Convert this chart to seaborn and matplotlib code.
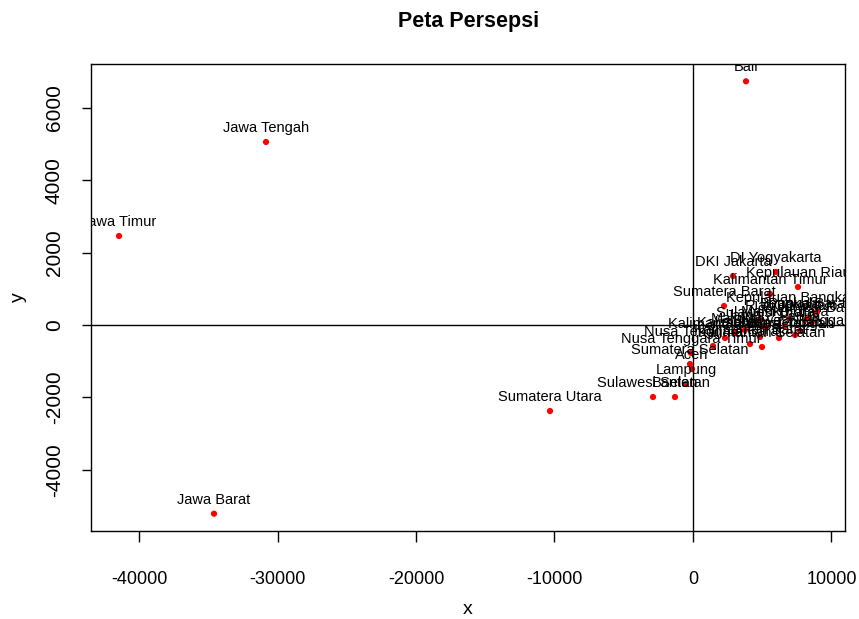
import matplotlib
matplotlib.use("Agg")
import matplotlib.pyplot as plt
import seaborn as sns
import pandas as pd

provinces = [
    "Bali", "Jawa Tengah", "Jawa Timur", "Jawa Barat", "Sumatera Utara",
    "Sulawesi Selatan", "Banten", "Lampung", "Aceh", "Sumatera Selatan",
    "Nusa Tenggara Timur", "DKI Jakarta", "DI Yogyakarta", "Kepulauan Riau",
    "Kalimantan Timur", "Sumatera Barat", "Kepulauan Bangka Belitung",
    "Papua Barat", "Nusa Tenggara Barat", "Kalimantan Barat", "Kalimantan Selatan",
    "Kalimantan Tengah", "Sulawesi Tengah", "Sulawesi Tenggara", "Riau",
    "Bengkulu", "Gorontalo", "Sulawesi Barat", "Jambi", "Sulawesi Utara",
    "Maluku", "Maluku Utara", "Kalimantan Utara", "Papua",
]
x_vals = [
    3827, -30830, -41444, -34585, -10325,
    -2888, -1300, -505, -72, -217,
    -144, 2888, 5993, 7581,
    5560, 2238, 8953,
    8375, 1444, 4116, 4982,
    4838, 6209, 7365, 4838,
    7004, 8087, 8592, 3755, 5199,
    3032, 6643, 2310, 7726,
]
y_vals = [
    6738, 5060, 2461, -5217, -2378,
    -1991, -1991, -1631, -1217, -1078,
    -774, 1355, 1465, 1051,
    857, 525, 359,
    194, -581, -525, -608,
    -332, -359, -276, 138,
    194, 138, 83, -138, -55,
    -221, -28, -359, -166,
]
x_ticks = [-40000, -30000, -20000, -10000, 0, 10000]
y_ticks = [-4000, -2000, 0, 2000, 4000, 6000]

sns.set_style("white")
plt.rcParams["font.family"] = ["Liberation Sans", "DejaVu Sans"]
plt.rcParams["text.color"] = "black"
plt.rcParams["axes.labelcolor"] = "black"
plt.rcParams["xtick.color"] = "black"
plt.rcParams["ytick.color"] = "black"

W, H = 859, 619
fig = plt.figure(figsize=(W / 100, H / 100), dpi=100)
ax = fig.add_axes([91 / W, 1 - 531 / H, (845 - 91) / W, (531 - 64) / H])

df = pd.DataFrame({"x": x_vals, "y": y_vals, "label": provinces})
sns.scatterplot(data=df, x="x", y="y", color="red", s=20, edgecolor="none",
                ax=ax, zorder=2.5, legend=False)
ax.axhline(0, color="black", lw=1, zorder=2)
ax.axvline(0, color="black", lw=1, zorder=2)

for lab, xv, yv in zip(provinces, x_vals, y_vals):
    ax.annotate(lab, (xv, yv), xytext=(0, 14), textcoords="offset pixels",
                ha="center", va="center", fontsize=10.5, color="black",
                clip_on=True, annotation_clip=False, zorder=3)

ax.set_xlim(-43466, 10975)
ax.set_ylim(-5695, 7216)
ax.set_xticks(x_ticks)
ax.set_xticklabels([str(t) for t in x_ticks])
ax.set_yticks(y_ticks)
ax.set_yticklabels([str(t) for t in y_ticks])
for sp in ax.spines.values():
    sp.set_visible(True)
    sp.set_color("black")
    sp.set_linewidth(1)
ax.tick_params(axis="x", direction="out", length=8, width=1, labelsize=13,
               pad=21, colors="black", bottom=True)
ax.tick_params(axis="y", direction="out", length=6.5, width=1, labelsize=15,
               pad=13, colors="black", left=True, labelrotation=90)
for t in ax.get_yticklabels():
    t.set_va("center")
ax.set_xlabel("")
ax.set_ylabel("")

fig.text(468 / W, 1 - 610 / H, "x", ha="center", va="center", fontsize=14)
fig.text(18 / W, 1 - 297 / H, "y", ha="center", va="center", fontsize=14, rotation=90)
fig.text(469 / W, 1 - 21 / H, "Peta Persepsi", ha="center", va="center",
         fontsize=15.5, fontweight="bold")

fig.savefig("out.png", dpi=100)
